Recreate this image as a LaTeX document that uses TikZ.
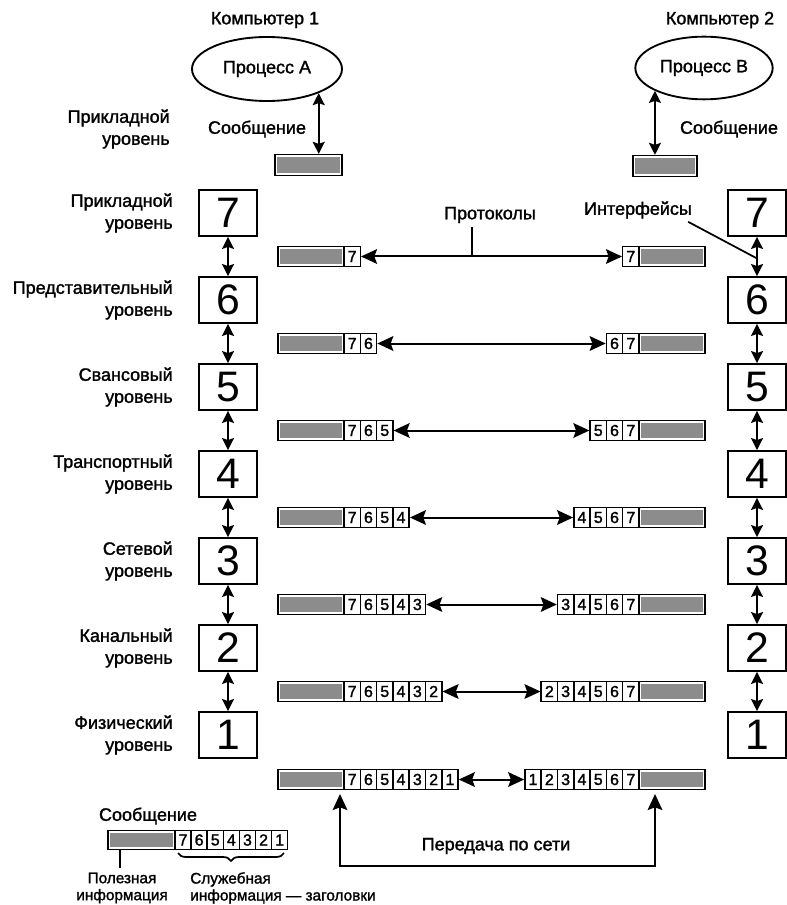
\documentclass[tikz,border=0pt]{standalone}
\usepackage{fontspec}
\setmainfont{Liberation Sans}
\newfontfamily\darkfont{Liberation Sans}[FakeBold=1.5]
\usetikzlibrary{arrows.meta,shapes.geometric,decorations.pathreplacing,calc}
\begin{document}
\begin{tikzpicture}[x=0.75pt,y=-0.75pt,
  txt/.style={font=\darkfont\fontsize{13.5}{16.5}\selectfont, inner sep=0pt},
  lbl/.style={txt, align=right, anchor=east},
  small/.style={font=\darkfont\fontsize{11.5}{12.75}\selectfont, inner sep=0pt},
  layer/.style={draw, line width=1.4pt, minimum width=43.5pt, minimum height=34.5pt, inner sep=0pt, font=\fontsize{32}{32}\selectfont},
  cell/.style={draw, line width=1.1pt, minimum width=12.2pt, minimum height=15pt, inner sep=0pt, font=\darkfont\fontsize{12}{12}\selectfont, fill=white},
  payload/.style={draw, line width=1.2pt, minimum width=49.5pt, minimum height=15pt, inner sep=0pt,
    path picture={\fill[black!45] ([shift={(1.6pt,-1.6pt)}]path picture bounding box.north west) rectangle ([shift={(-1.6pt,1.6pt)}]path picture bounding box.south east);}},
  proc/.style={draw, ellipse, line width=1.4pt, inner sep=0pt, font=\darkfont\fontsize{13.5}{16}\selectfont},
  dbl/.style={line width=1.5pt, {Stealth[length=9pt,width=9pt,inset=1.5pt]}-{Stealth[length=9pt,width=9pt,inset=1.5pt]}},
  hdbl/.style={line width=1.5pt, {Stealth[length=12pt,width=11pt,inset=2pt]}-{Stealth[length=12pt,width=11pt,inset=2pt]}},
  net/.style={line width=1.5pt, {Stealth[length=12pt,width=11pt,inset=2pt]}-{Stealth[length=12pt,width=11pt,inset=2pt]}},
  thin/.style={line width=1.3pt}
]
\useasboundingbox (0,0) rectangle (787,905);

% computers and processes
\node[txt] (comp1) at (265,20) {Компьютер 1};
\node[txt] (comp2) at (720,20) {Компьютер 2};
\node[proc, minimum width=112.5pt, minimum height=48pt] (pA) at (267,69) {Процесс А};
\node[proc, minimum width=103pt, minimum height=47pt] (pB) at (704,68) {Процесс В};
\node[payload, minimum width=50pt, minimum height=15.5pt] (mA) at (308.5,165) {};
\node[payload, minimum width=48pt, minimum height=15.5pt] (mB) at (665,166) {};
\draw[dbl] (pA.-25) -- (pA.-25 |- mA.north);
\draw[dbl] (pB.205) -- (pB.205 |- mB.north);
\node[txt] (msgA) at (257,129) {Сообщение};
\node[txt] (msgB) at (729,129) {Сообщение};
\node[lbl] (applTop) at (170,129) {Прикладной\\уровень};

% layers
\foreach \k/\y/\name in {7/213/Прикладной,6/300/Представительный,5/387/Свансовый,4/474/Транспортный,3/561/Сетевой,2/648/Канальный,1/735/Физический}{
  \node[layer] (L\k) at (228,\y) {\k};
  \node[layer] (R\k) at (757,\y) {\k};
  \node[lbl] (lab\k) at (173,\y) {\name\\уровень};
}
\foreach \a/\b in {7/6,6/5,5/4,4/3,3/2,2/1}{
  \draw[dbl] (L\a.south) -- (L\b.north);
  \draw[dbl] (R\a.south) -- (R\b.north);
}

% message bars
\foreach \k/\y in {7/256.5,6/343.5,5/430.5,4/517.5,3/604.5,2/691.5,1/779.5}{
  \pgfmathtruncatemacro\n{8-\k}
  \node[payload] (pL\k) at (311,\y) {};
  \node[payload] (pR\k) at (672,\y) {};
  \foreach \i in {1,...,\n}{
    \pgfmathtruncatemacro\d{8-\i}
    \node[cell] (cL\k-\i) at ({344+(\i-0.5)*16.3},\y) {\d};
    \node[cell] (cR\k-\i) at ({639-(\i-0.5)*16.3},\y) {\d};
  }
  \draw[hdbl] (cL\k-\n.east) -- (cR\k-\n.west);
}

% protocols / interfaces
\node[txt] (prot) at (490,215) {Протоколы};
\coordinate (protpt) at (472,256.5);
\draw[thin] (prot.south -| protpt) ++(0,4) -- (protpt);
\node[txt] (intf) at (638,210) {Интерфейсы};
\coordinate (ifpt) at ($(R7.south)!0.55!(R6.north)$);
\draw[thin] ($(intf.south east)+(-4,3)$) -- (ifpt);

% network transfer
\coordinate (upL) at (340,794);
\coordinate (upR) at (655,794);
\coordinate (cornL) at (340,866);
\coordinate (cornR) at (655,866);
\draw[net] (upL) -- (cornL) -- (cornR) -- (upR);
\node[txt] (netlbl) at (496,846) {Передача по сети};

% legend
\node[txt] (legt) at (148,816) {Сообщение};
\node[payload, minimum width=50pt, minimum height=14pt] (legp) at (141.5,840) {};
\foreach \i in {1,...,7}{
  \pgfmathtruncatemacro\d{8-\i}
  \node[cell, minimum width=12.1pt, minimum height=14pt] (lc\i) at ({175+(\i-0.5)*16.1},840) {\d};
}
\coordinate (tick) at (120,868);
\draw[thin] (tick |- legp.south) -- (tick);
\coordinate (brL) at (178,853);
\coordinate (brR) at (284,853);
\draw[thin, decorate, decoration={brace, mirror, amplitude=6pt}] (brL) -- (brR);
\node[small, align=center] (useful) at (122,888) {Полезная\\информация};
\node[small, align=left, anchor=west] (service) at (190,888) {Служебная\\информация — заголовки};
\end{tikzpicture}
\end{document}
